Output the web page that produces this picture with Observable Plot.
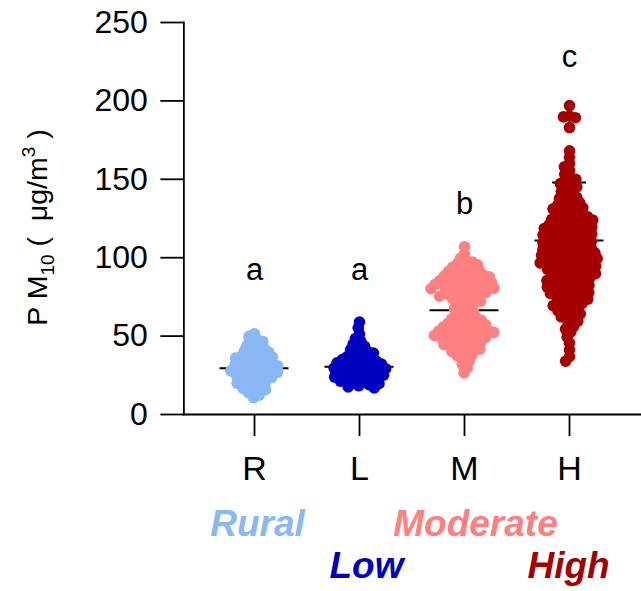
<!DOCTYPE html>
<html>
<head>
<meta charset="utf-8">
<script src="https://cdn.jsdelivr.net/npm/d3@7"></script>
<script src="https://cdn.jsdelivr.net/npm/@observablehq/plot@0.6"></script>
<style>
  html, body { margin: 0; padding: 0; background: #fff; }
</style>
</head>
<body>
<div id="chart"></div>
<script>
// ---- data ----
const categories = ["R", "L", "M", "H"];
const groupNames = ["Rural", "Low", "Moderate", "High"];
const colors = ["#8AB8F4", "#0000C0", "#FF8080", "#A50000"];

const rural = [
  51.5, 49.8,
  48.0, 46.6, 45.2,
  44.1, 43.0, 42.3, 41.4,
  40.6, 39.8, 39.1, 38.5, 37.9, 37.2,
  36.7, 36.0, 35.4, 34.8, 34.2, 33.6, 33.1,
  32.6, 32.1, 31.5, 31.0, 30.4, 29.9, 29.5, 29.1,
  28.7, 28.2, 27.8, 27.3, 26.9, 26.4, 25.9, 25.3,
  24.8, 24.2, 23.6, 23.1, 22.5, 21.9, 21.3,
  20.6, 19.9, 19.2, 18.4, 17.5,
  16.6, 15.8, 14.9, 13.9,
  12.4, 10.8
];
const low = [
  59.0, 55.2, 51.3, 48.4, 46.6,
  44.8, 43.5, 42.2,
  41.3, 40.1, 39.2, 38.3,
  37.6, 37.0, 36.3, 35.7, 35.0, 34.6, 34.1,
  33.5, 33.0, 32.6, 32.1, 31.6, 31.2, 30.8, 30.3, 30.0,
  29.6, 29.2, 28.8, 28.4, 28.0, 27.3, 26.9, 26.2, 25.9,
  25.5, 25.1, 24.7, 24.3, 23.9, 23.2, 22.5, 22.2, 21.8,
  21.3, 20.7, 20.2, 19.6, 19.0, 18.3,
  17.6, 16.9
];
const moderate = [
  107.0,
  102.5,
  99.6, 98.4, 97.3,
  96.2, 95.5, 94.7, 93.9, 93.2,
  92.4, 91.8, 91.1, 90.5, 89.9, 89.4, 88.9,
  88.3, 87.8, 87.3, 86.8, 86.3, 85.9, 85.5, 85.1, 84.7,
  84.2, 83.8, 83.4, 83.0, 82.6, 82.2, 81.8, 81.4, 81.0, 80.6,
  80.2, 79.7, 79.2, 78.7, 78.3, 77.9, 77.5, 77.1, 76.7,
  76.1, 75.4, 74.8, 74.2, 73.6, 73.0,
  72.2, 71.3, 70.4, 69.5,
  68.5, 67.6, 66.6, 65.5,
  64.6, 63.7, 62.8, 62.0, 61.2,
  60.6, 60.0, 59.4, 58.8, 58.2, 57.7, 57.2,
  56.7, 56.2, 55.7, 55.2, 54.8, 54.4, 54.0, 53.6, 53.2,
  52.8, 52.4, 52.0, 51.6, 51.2, 50.8, 50.4, 50.0, 49.6, 49.2,
  48.7, 48.2, 47.7, 47.2, 46.7, 46.2, 45.7, 45.2,
  44.5, 43.8, 43.1, 42.4, 41.7, 41.0,
  40.2, 39.3, 38.4, 37.5,
  35.8, 34.2,
  32.0, 29.8,
  26.5
];
const high = [
  197.0,
  190.3, 189.8, 189.3,
  183.0,
  168.2, 164.0, 160.1,
  158.0, 155.6,
  153.2, 151.5,
  150.0, 148.6, 147.3,
  146.2, 145.1, 143.1,
  142.2, 140.1, 139.2,
  138.5, 137.8, 135.7, 135.1,
  134.4, 133.7, 132.4, 131.8, 131.2,
  130.5, 129.8, 128.4, 127.8, 127.2,
  126.6, 126.1, 125.6, 125.0, 124.5, 124.0, 123.5, 123.0,
  122.5, 122.0, 121.5, 121.0, 120.5, 120.0, 119.5, 119.1,
  118.6, 118.2, 117.7, 117.3, 116.8, 116.4, 115.9, 115.5, 115.1,
  114.6, 114.2, 113.7, 113.3, 112.8, 112.4, 111.9, 111.5, 111.1,
  110.6, 110.2, 109.7, 109.3, 108.8, 108.4, 107.9, 107.5, 107.1,
  106.6, 106.2, 105.7, 105.3, 104.8, 104.4, 103.9, 103.5, 103.1,
  102.7, 102.3, 101.9, 101.5, 101.1, 100.7, 100.3, 99.9, 99.5, 99.1,
  98.7, 98.3, 97.9, 97.5, 97.1, 96.7, 96.3, 95.9, 95.5, 95.1,
  94.6, 94.1, 93.6, 93.1, 92.6, 92.1, 91.6, 91.2, 90.8,
  90.3, 89.8, 89.3, 88.8, 88.3, 87.8, 87.4, 86.9,
  86.4, 85.9, 85.4, 84.9, 84.4, 83.9, 83.5, 83.0,
  82.4, 81.8, 81.2, 80.6, 80.0, 79.5, 79.0,
  78.4, 77.8, 77.2, 76.6, 76.0, 75.5, 75.0,
  74.3, 73.6, 72.9, 72.2, 71.5, 70.9,
  70.2, 69.4, 68.6, 67.8, 67.1,
  66.2, 65.2, 64.2, 63.3,
  62.3, 61.0, 59.6,
  58.0, 56.4,
  54.5, 52.6,
  49.5,
  45.5,
  41.3,
  37.0, 34.0
];

const means = [29.5, 30.5, 66.5, 111];
const sds = [9, 8, 18, 37];
const sigLetters = ["a", "a", "b", "c"];
const letterY = [92, 92, 134, 228];
const yTicks = [0, 50, 100, 150, 200, 250];
const yLabel = "P M10 ( μg/m3 )";

// ---- tables built from the arrays ----
const series = [rural, low, moderate, high];
const points = series.flatMap((vals, i) => vals.map(v => ({group: categories[i], value: v})));
const stats = categories.map((c, i) => ({
  group: c,
  name: groupNames[i],
  mean: means[i],
  lo: means[i] - sds[i],
  hi: means[i] + sds[i],
  letter: sigLetters[i],
  ly: letterY[i]
}));

const W = 641, H = 591, ML = 181, MR = 0, MT = 22, MB = 177;
const fxOptions = {domain: categories, paddingInner: 0.2, paddingOuter: 0.27};
// the axes belong at the outer frame edges, not at the facets' edges
const fxScale = Plot.scale({fx: {...fxOptions, range: [ML, W - MR]}});
const axisShift = ML - fxScale.apply(categories[0]);

const font = "'Liberation Sans', Arial, sans-serif";

// one legend word under each category (two staggered rows)
const legendOffsets = [
  {dx: 3, dy: 110}, {dx: 7, dy: 152}, {dx: 11, dy: 110}, {dx: -1, dy: 152}
];
const legendMarks = legendOffsets.map((o, i) =>
  Plot.text(stats, {
    filter: (d, j) => j === i, fx: "group", frameAnchor: "bottom", lineAnchor: "middle",
    text: "name", fill: "group", fontSize: 37, fontWeight: "bold", fontStyle: "italic",
    dx: o.dx, dy: o.dy
  })
);

const chart = Plot.plot({
  width: W,
  height: H,
  marginLeft: ML,
  marginRight: MR,
  marginTop: MT,
  marginBottom: MB,
  style: {fontFamily: font, background: "#fff", color: "#000"},
  fx: {...fxOptions, label: null},
  y: {domain: [0, 250]},
  color: {domain: categories, range: colors},
  marks: [
    Plot.frame({anchor: "left", facet: "super", strokeWidth: 1.8, dx: axisShift}),
    Plot.frame({anchor: "bottom", facet: "super", strokeWidth: 1.8, insetLeft: axisShift, insetRight: axisShift}),
    Plot.axisY({ticks: yTicks, tickSize: 23, tickPadding: 13, fontSize: 32, strokeWidth: 1.8, label: null, dx: axisShift}),
    Plot.text([yLabel], {facet: "super", frameAnchor: "left", rotate: -90, textAnchor: "middle", dx: axisShift - 146, dy: 9, fontSize: 28.5}),
    Plot.axisFx({anchor: "bottom", tickSize: 22, tickPadding: 19, fontSize: 34, strokeWidth: 1.8, label: null}),
    Plot.tickY(stats, {fx: "group", y: "mean", insetLeft: 7.5, insetRight: 7.5, strokeWidth: 2}),
    Plot.tickY(stats, {fx: "group", y: "lo", insetLeft: 25, insetRight: 25, strokeWidth: 2}),
    Plot.tickY(stats, {fx: "group", y: "hi", insetLeft: 25, insetRight: 25, strokeWidth: 2}),
    Plot.dot(points, Plot.dodgeX({anchor: "middle", padding: -5.5}, {fx: "group", y: "value", fill: "group", r: 5.8})),
    Plot.text(stats, {fx: "group", y: "ly", text: "letter", fontSize: 31}),
    ...legendMarks
  ]
});

// subscript / superscript in the y label
d3.select(chart).selectAll("text").filter(function () { return this.textContent === yLabel; }).each(function () {
  const t = d3.select(this);
  t.text(null);
  t.append("tspan").text("P M");
  t.append("tspan").attr("font-size", "19px").attr("dy", "7").text("10");
  t.append("tspan").attr("dy", "-7").text("\u00A0( \u00A0μg/m");
  t.append("tspan").attr("font-size", "19px").attr("dy", "-12").text("3");
  t.append("tspan").attr("dy", "12").text("\u00A0)");
});

document.getElementById("chart").appendChild(chart);
</script>
</body>
</html>
